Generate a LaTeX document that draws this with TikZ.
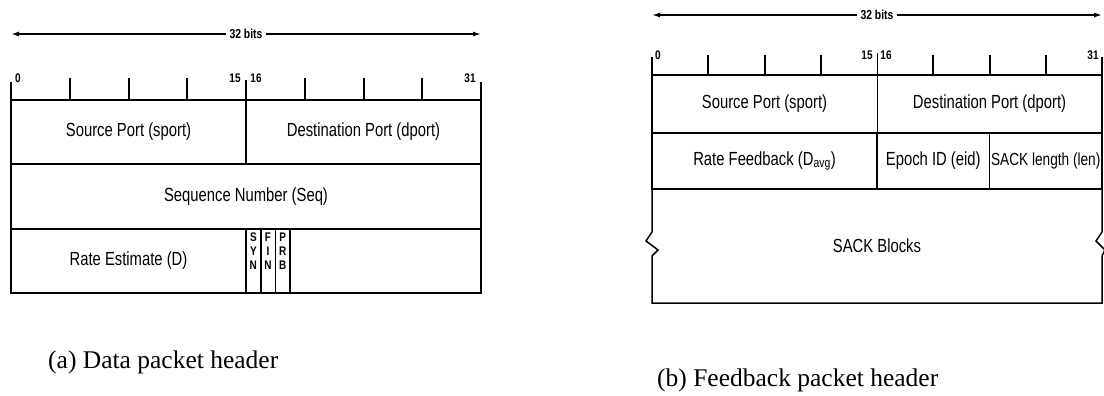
\documentclass[tikz,border=0pt]{standalone}
\usepackage{fontspec}
\setmainfont{Liberation Serif}
\newfontfamily\fieldfont[FakeStretch=0.78]{Liberation Sans}
\newfontfamily\markfont[FakeStretch=0.8]{Liberation Sans Bold}
\usetikzlibrary{arrows.meta,positioning}
\tikzset{field/.style={
    rectangle,
    draw,
    line width=1.6pt,
    anchor=north west,
    inner sep=0pt,
    outer sep=0pt,
    font=\fieldfont\fontsize{19}{22}\selectfont
  },
  thinfield/.style={field,line width=0.9pt},
  flagbox/.style={field,minimum width=14.7pt,minimum height=64pt},
  flagtext/.style={align=center,inner sep=0pt,font=\markfont\fontsize{12.5}{14}\selectfont},
  bitnum/.style={inner sep=0pt,font=\markfont\fontsize{12.5}{14}\selectfont},
  quartertick/.style={line width=2pt},
  edgetick/.style={line width=1.6pt},
  ruler/.style={line width=2.6pt},
  sideline/.style={line width=1.5pt},
  widtharrow/.style={line width=1.4pt,{Latex[length=8pt,width=5pt]}-{Latex[length=8pt,width=5pt]}},
  widthlabel/.style={fill=white,inner sep=4pt,font=\markfont\fontsize{13}{15}\selectfont},
  caption/.style={anchor=base west,inner sep=0pt,font=\fontsize{25.5}{28}\selectfont}
}
\begin{document}
\begin{tikzpicture}[x=1pt,y=-1pt]
  \useasboundingbox (0,0) rectangle (1104,396);
  \coordinate (la) at (11,34);
  \coordinate (lb) at (481,34);
  \draw[widtharrow] (la) -- node[widthlabel] (lbits) {32 bits} (lb);
  \foreach \x in {69.75,128.5,187.25,304.75,363.5,422.25}
    \draw[quartertick] (\x,78) -- (\x,100);
  \foreach \x/\y in {11/82,246/80,481/82}
    \draw[edgetick] (\x,\y) -- (\x,100);
  \foreach \x/\t/\n in {18/0/lzero,235/15/lfifteen,256/16/lsixteen,470/31/lthirtyone}
    \node[bitnum] (\n) at (\x,78) {\t};
  \node[field,minimum width=235pt,minimum height=64pt] (lsport) at (11,100) {Source Port (sport)};
  \node[field,minimum width=235pt,minimum height=64pt] (ldport) at (246,100) {Destination Port (dport)};
  \node[field,minimum width=470pt,minimum height=65pt] (lseq) at (11,164) {Sequence Number (Seq)};
  \node[field,minimum width=235pt,minimum height=64pt] (lrate) at (11,229) {Rate Estimate (D)};
  \node[flagbox] (syn) at (246,229) {};
  \node[flagbox] (fin) at (260.7,229) {};
  \node[flagbox] (prb) at (275.4,229) {};
  \node[field,minimum width=190.9pt,minimum height=64pt] (lrest) at (290.1,229) {};
  \node[flagtext,below=4pt of syn.north] (syntext) {S\\Y\\N};
  \node[flagtext,below=4pt of fin.north] (fintext) {F\\I\\N};
  \node[flagtext,below=4pt of prb.north] (prbtext) {P\\R\\B};
  \draw[ruler] (lsport.north west) -- (ldport.north east);
  \node[caption] (capa) at (48,368) {(a) Data packet header};

  \coordinate (ra) at (652,15);
  \coordinate (rb) at (1102,15);
  \draw[widtharrow] (ra) -- node[widthlabel] (rbits) {32 bits} (rb);
  \foreach \x in {708.25,764.5,820.75,933.25,989.5,1045.75}
    \draw[quartertick] (\x,55) -- (\x,75);
  \draw[thinfield] (877,53) -- (877,75);
  \foreach \x/\t/\n in {658/0/rzero,867/15/rfifteen,886/16/rsixteen,1093/31/rthirtyone}
    \node[bitnum] (\n) at (\x,55) {\t};
  \node[thinfield,minimum width=225pt,minimum height=58pt] (rsport) at (652,75) {Source Port (sport)};
  \node[thinfield,minimum width=225pt,minimum height=58pt] (rdport) at (877,75) {Destination Port (dport)};
  \node[field,minimum width=225pt,minimum height=56pt] (rfeed) at (652,133) {Rate Feedback (D\textsubscript{avg})};
  \node[field,minimum width=112.5pt,minimum height=56pt] (reid) at (877,133) {Epoch ID (eid)};
  \node[field,minimum width=112.5pt,minimum height=56pt,font=\fieldfont\fontsize{17.5}{20}\selectfont] (rlen) at (989.5,133) {SACK length (len)};
  \node[field,draw=none,minimum width=450pt,minimum height=114pt] (rsack) at (652,189) {SACK Blocks};
  \foreach \x in {652,1102}
    \draw[edgetick] (\x,57) -- (\x,133);
  \draw[ruler] (rsport.north west) -- (rdport.north east);
  \draw[sideline] (rsack.north west) -- ++(0,43) -- ++(-6,9) -- ++(12,9) -- ++(-6,6)
    |- (rsack.south east) -- ++(0,-47) -- ++(3,-6) -- ++(-9,-9) -- ++(6,-9) -- (rsack.north east);
  \node[caption] (capb) at (657,386) {(b) Feedback packet header};
\end{tikzpicture}
\end{document}
